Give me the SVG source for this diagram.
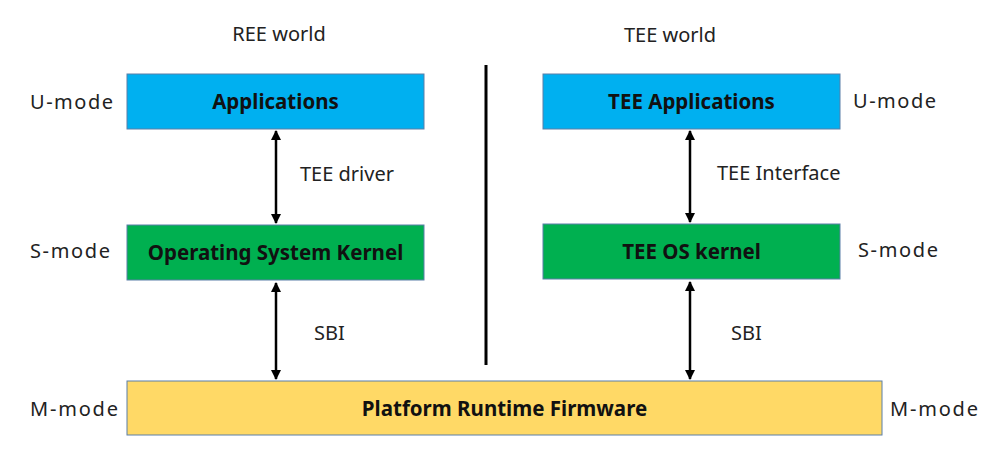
<svg xmlns="http://www.w3.org/2000/svg" width="1007" height="464" viewBox="0 0 1007 464">
<defs>
<style>
.lbl{font-family:"Noto Sans","Liberation Sans",sans-serif;font-size:20px;fill:#222}
.bt{font-family:"Noto Sans","Liberation Sans",sans-serif;font-size:20.5px;font-weight:bold;fill:#111;text-anchor:middle}
.box{stroke:#5B7FA8;stroke-width:1}
.arr{stroke:#000;stroke-width:2.5;fill:none;marker-start:url(#ah);marker-end:url(#ah)}
</style>
<marker id="ah" viewBox="0 0 10 10" refX="9" refY="5" markerWidth="4" markerHeight="4" orient="auto-start-reverse" markerUnits="strokeWidth">
<path d="M0,0 L10,5 L0,10 z" fill="#000"/>
</marker>
</defs>
<rect width="1007" height="464" fill="#fff"/>
<text class="lbl" x="279" y="41" text-anchor="middle">REE world</text>
<text class="lbl" x="670" y="42" text-anchor="middle">TEE world</text>
<text class="lbl" x="30" y="109" textLength="83" lengthAdjust="spacing">U-mode</text>
<text class="lbl" x="30" y="258" textLength="80" lengthAdjust="spacing">S-mode</text>
<text class="lbl" x="30" y="416" textLength="88" lengthAdjust="spacing">M-mode</text>
<text class="lbl" x="853" y="108" textLength="83" lengthAdjust="spacing">U-mode</text>
<text class="lbl" x="858" y="257" textLength="80" lengthAdjust="spacing">S-mode</text>
<text class="lbl" x="890" y="416" textLength="88" lengthAdjust="spacing">M-mode</text>
<text class="lbl" x="300" y="181">TEE driver</text>
<text class="lbl" x="717" y="180">TEE Interface</text>
<text class="lbl" x="314" y="340">SBI</text>
<text class="lbl" x="731" y="340">SBI</text>
<line x1="486" y1="65" x2="486" y2="365" stroke="#000" stroke-width="3"/>
<g id="connectors">
<line class="arr" x1="276" y1="131" x2="276" y2="223"/>
<line class="arr" x1="276" y1="283" x2="276" y2="379"/>
<line class="arr" x1="690" y1="131" x2="690" y2="222"/>
<line class="arr" x1="690" y1="282" x2="690" y2="379"/>
</g>
<g id="applications"><rect class="box" x="127" y="74" width="297" height="55" fill="#00B0F0"/><text class="bt" x="275.5" y="109">Applications</text></g>
<g id="os-kernel"><rect class="box" x="127" y="225" width="297" height="55" fill="#00B050"/><text class="bt" x="275.5" y="260">Operating System Kernel</text></g>
<g id="tee-applications"><rect class="box" x="543" y="74" width="297" height="55" fill="#00B0F0"/><text class="bt" x="691.5" y="109">TEE Applications</text></g>
<g id="tee-os-kernel"><rect class="box" x="543" y="224" width="297" height="55" fill="#00B050"/><text class="bt" x="691.5" y="259">TEE OS kernel</text></g>
<g id="firmware"><rect class="box" x="127" y="381" width="755" height="54" fill="#FFD966"/><text class="bt" x="504.5" y="416">Platform Runtime Firmware</text></g>
</svg>
